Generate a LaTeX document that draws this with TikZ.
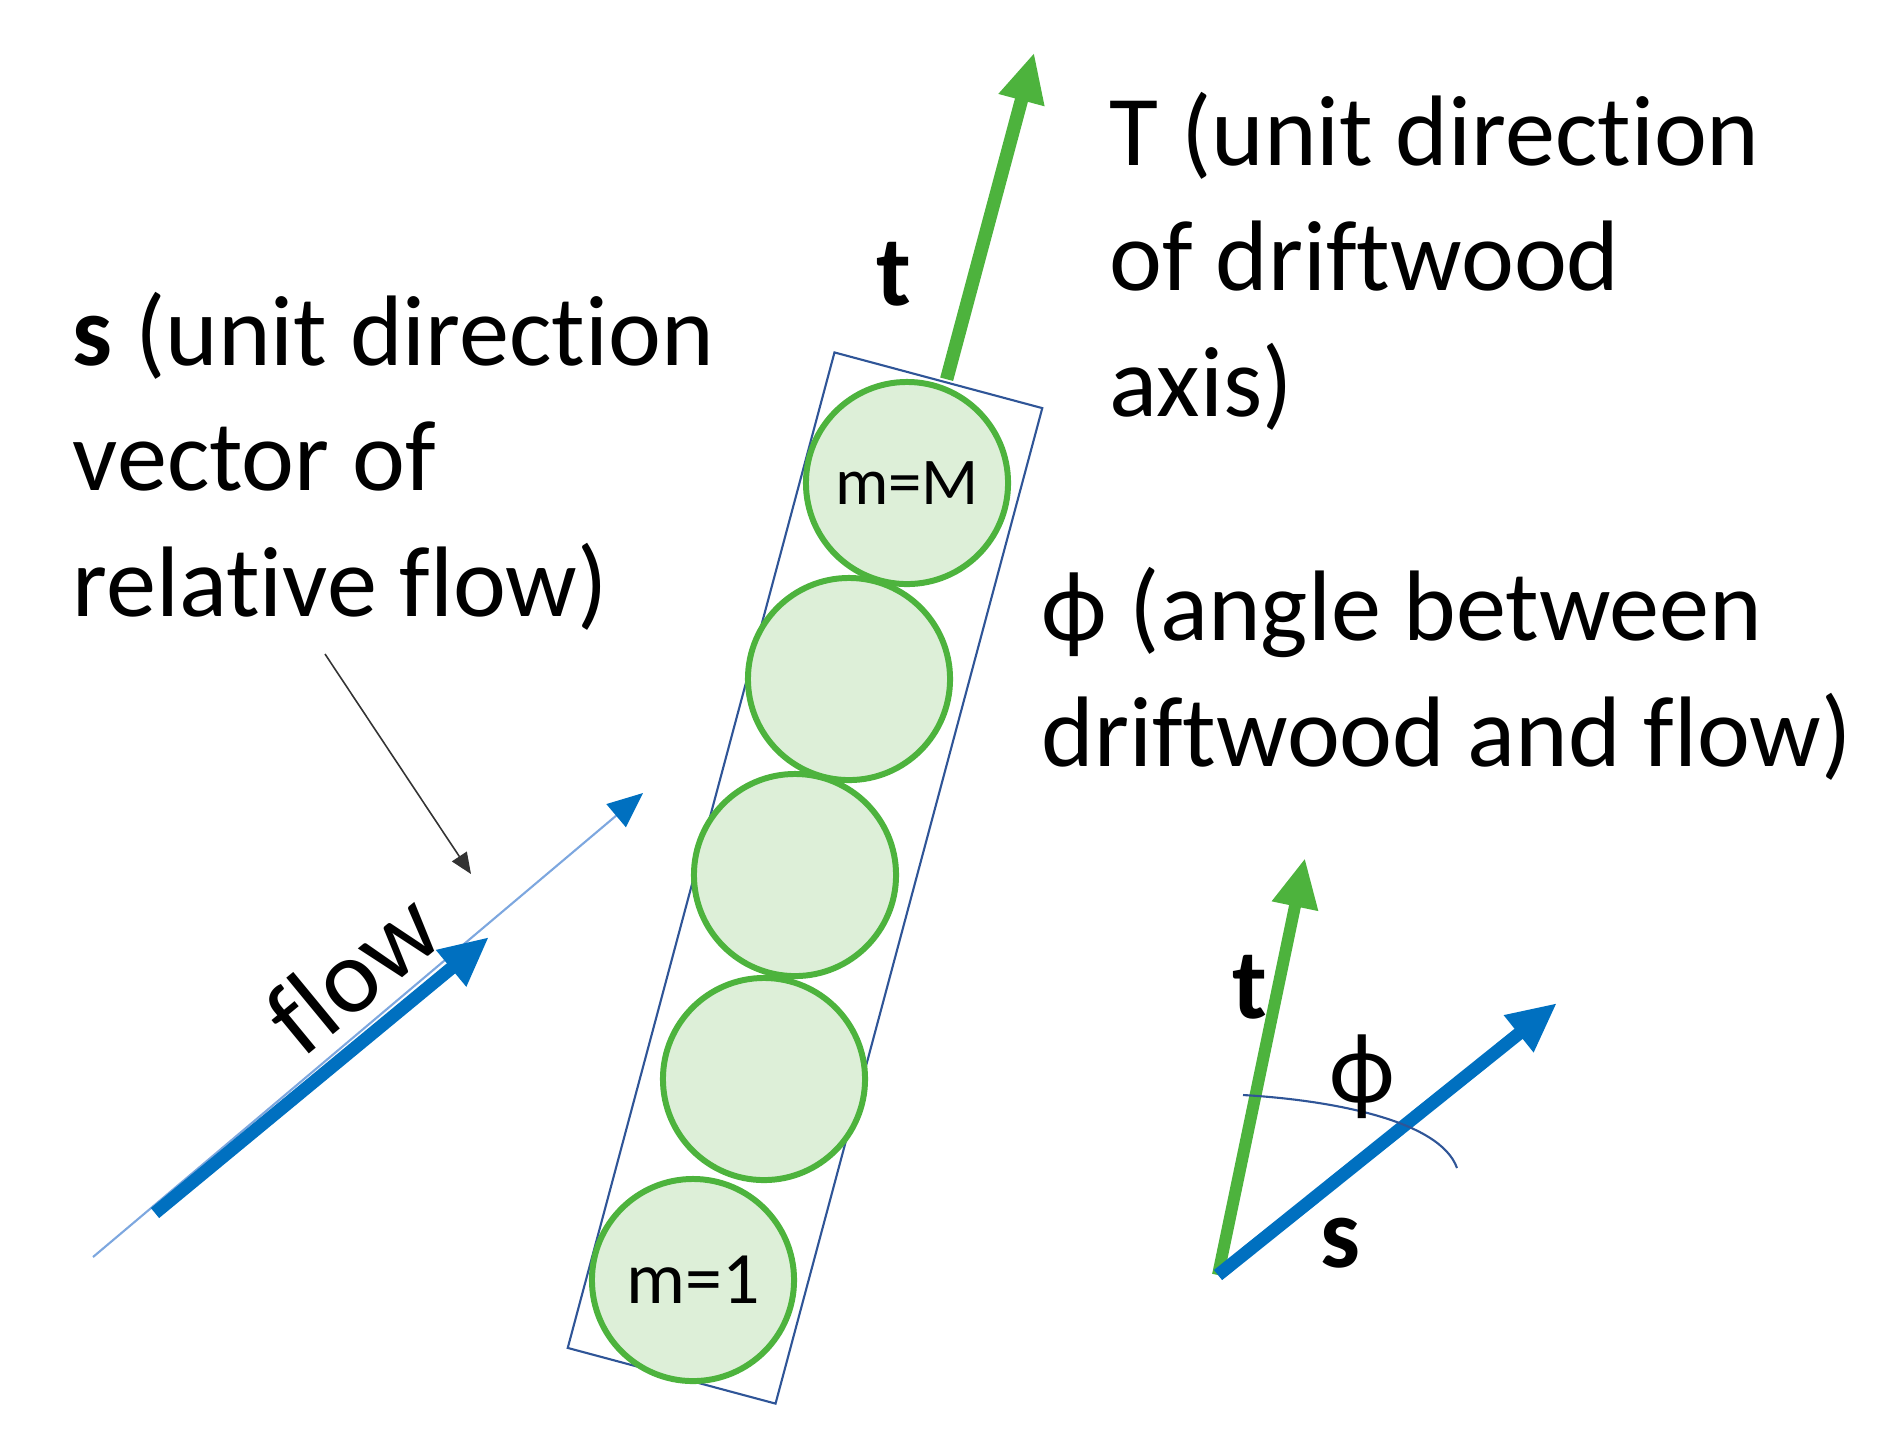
\documentclass[tikz,border=0pt]{standalone}
\usepackage{fontspec}
\setmainfont{Carlito}[Ligatures=NoCommon]
\usepackage{tikz}
\usetikzlibrary{arrows.meta}
\usetikzlibrary{positioning}
\usetikzlibrary{calc}
\definecolor{woodgreen}{HTML}{4DB33D}
\definecolor{ballfill}{HTML}{DDEFD8}
\definecolor{flowblue}{HTML}{0070C0}
\definecolor{thinblue}{HTML}{7DA7DF}
\definecolor{boxblue}{HTML}{2F5597}

\begin{document}
\begin{tikzpicture}[x=0.01cm, y=-0.01cm,
				caption/.style={inner sep=0pt, anchor=base west, align=left, font=\fontsize{28.5}{35.6}\selectfont},
				symbol/.style={inner sep=0pt, font=\fontsize{28.5}{35.6}\selectfont},
				ball/.style={draw=woodgreen, fill=ballfill, circle, line width=1.7pt, minimum size=2.02cm, inner sep=0pt, font=\fontsize{19}{22}\selectfont},
				vec/.style={line width=3.8pt, -{Triangle[length=14pt, width=12.5pt]}}]
				\useasboundingbox (0, 0) rectangle (1888, 1432);
				
				\node[caption](node1) at (72, 616) {\textbf{s} (unit direction\\vector of\\relative flow)};
				\node[caption](node2) at (1109, 416) {T (unit direction\\of driftwood\\axis)};
				\node[caption](node3) at (1041, 766) {ϕ (angle between\\driftwood and flow)};
				
				% driftwood as a chain of balls
				\node[draw=boxblue, line width=0.6pt, rotate=-15, minimum width=2.15cm, minimum height=10.3cm, inner sep=0pt](log) at (805, 878) {};
				\node[ball, font=\fontsize{21}{24}\selectfont](ball1) at (693, 1280) {m=1};
				\node[ball](ball2) at (764, 1079) {};
				\node[ball](ball3) at (795, 875) {};
				\node[ball](ball4) at (849, 679) {};
				\node[ball](ball5) at (907, 483) {m=M};
				
				\draw [vec, woodgreen] ($(log.north)+(8, 0)$) -- ($(log.center)!1.655!(log.north)+(8, 0)$);
				\node[symbol](node4) at (894, 274) {\textbf{t}};
				
				% relative flow
				\coordinate (flow0) at (93, 1257);
				\coordinate (flow1) at (643, 793);
				\coordinate (flow2) at (155, 1213);
				\coordinate (flow3) at (489, 937);
				\draw [thinblue, line width=0.6pt, -{Triangle[length=10pt, width=8.5pt, color=flowblue]}] (flow0) -- (flow1);
				\draw [vec, flowblue, line width=3.7pt] (flow2) -- (flow3);
				\node[rotate=39.5, inner sep=0pt, font=\fontsize{30}{36}\selectfont](node5) at (352, 972) {flow};
				
				\coordinate (point0) at (325, 654);
				\coordinate (point1) at (471, 874);
				\draw [black!80, line width=0.45pt, -{Triangle[length=6pt, width=5pt]}] (point0) -- (point1);
				
				% angle sketch
				\coordinate (origin) at (1218, 1275);
				\coordinate (tvec) at (1305, 858);
				\coordinate (svec) at (1557, 1003);
				\draw [vec, woodgreen, line width=3.4pt] (origin) -- (tvec);
				\draw [vec, flowblue, line width=3.7pt] (origin) -- (svec);
				\coordinate (arc0) at (1243, 1095);
				\coordinate (arc1) at (1457, 1168);
				\draw [boxblue, line width=0.6pt] (arc0) .. controls (1330, 1100) and (1440, 1120) .. (arc1);
				\node[symbol](node6) at (1250, 987) {\textbf{t}};
				\node[symbol](node7) at (1362, 1077) {ϕ};
				\node[symbol](node8) at (1340, 1243) {\textbf{s}};
				
			\end{tikzpicture}
\end{document}
